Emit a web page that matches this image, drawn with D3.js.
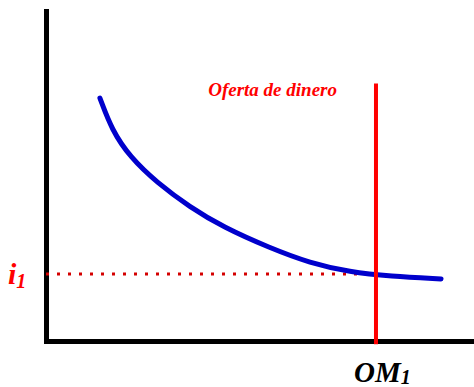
<!DOCTYPE html>
<html>

<head>
	<meta charset='utf-8'>
	<title>Oferta de dinero</title>
	<script type='text/javascript' src='https://cdn.jsdelivr.net/npm/d3@7'></script>
	<style>
		body { margin: 0; background: #fff; }
	</style>
</head>

<body>
	<svg width='474' height='387'></svg>
	<script type='text/javascript'>

		// curva de demanda de dinero (cantidad, tasa de interés)
		const demandaCantidad = [12.6, 15.4, 19.6, 25.9, 33.6, 41.4, 52.3, 61.7, 71.0, 80.4, 92.3]
		const demandaTasa = [73.6, 63.9, 55.8, 48.0, 40.6, 34.5, 28.2, 23.6, 20.9, 19.6, 18.8]

		// oferta de dinero (vertical) y tasa de equilibrio
		const ofertaCantidad = [77.1]
		const ofertaTasa = [-1, 78]
		const tasaEquilibrio = [20.3]

		const ofertaLabel = 'Oferta de dinero'
		const xLabel = ['OM', '1']
		const yLabel = ['i', '1']

		const origin = { x: 46, y: 341 }

		const xScale = d3.scaleLinear().domain([0, 100]).range([origin.x, 474])
		const yScale = d3.scaleLinear().domain([0, 100]).range([origin.y, 11])

		const svg = d3.select('svg')
		const serif = "'Liberation Serif', 'Times New Roman', serif"

		// ejes sin marcas
		const xAxis = d3.axisBottom(xScale).tickValues([]).tickSizeOuter(0)
		const yAxis = d3.axisLeft(yScale).tickValues([]).tickSizeOuter(0)

		svg.append('g').attr('transform', `translate(0, ${origin.y})`).call(xAxis)
		svg.append('g').attr('transform', `translate(${origin.x}, 0)`).call(yAxis)

		svg.selectAll('.domain')
			.attr('stroke', '#000')
			.attr('stroke-width', 5)
			.attr('stroke-linecap', 'square')

		// línea punteada hasta i1
		svg.append('line')
			.attr('x1', xScale(0))
			.attr('x2', xScale(ofertaCantidad[0]))
			.attr('y1', yScale(tasaEquilibrio[0]))
			.attr('y2', yScale(tasaEquilibrio[0]))
			.attr('stroke', '#d40000')
			.attr('stroke-width', 3)
			.attr('stroke-dasharray', '3,8')

		// curva de demanda
		const points = demandaCantidad.map((d, i) => [d, demandaTasa[i]])
		const line = d3.line()
			.x(d => xScale(d[0]))
			.y(d => yScale(d[1]))
			.curve(d3.curveBasis)

		svg.append('path')
			.datum(points)
			.attr('d', line)
			.attr('fill', 'none')
			.attr('stroke', '#0000cc')
			.attr('stroke-width', 5)
			.attr('stroke-linecap', 'round')

		// oferta de dinero
		svg.append('line')
			.attr('x1', xScale(ofertaCantidad[0]))
			.attr('x2', xScale(ofertaCantidad[0]))
			.attr('y1', yScale(ofertaTasa[0]))
			.attr('y2', yScale(ofertaTasa[1]))
			.attr('stroke', '#ff0000')
			.attr('stroke-width', 4)

		svg.append('text')
			.attr('x', xScale(ofertaCantidad[0]) - 39)
			.attr('y', 96)
			.attr('text-anchor', 'end')
			.attr('font-family', serif)
			.attr('font-weight', 'bold')
			.attr('font-style', 'italic')
			.attr('font-size', '19px')
			.attr('fill', '#ff0000')
			.text(ofertaLabel)

		// etiquetas de ejes
		const om = svg.append('text')
			.attr('x', xScale(ofertaCantidad[0]) - 22)
			.attr('y', 382)
			.attr('font-family', serif)
			.attr('font-weight', 'bold')
			.attr('font-style', 'italic')
			.attr('font-size', '29px')
			.attr('fill', '#000')
		om.append('tspan').text(xLabel[0])
		om.append('tspan').attr('font-size', '20px').attr('dy', 2).text(xLabel[1])

		const il = svg.append('text')
			.attr('x', 8)
			.attr('y', yScale(tasaEquilibrio[0]) + 10)
			.attr('font-family', serif)
			.attr('font-weight', 'bold')
			.attr('font-style', 'italic')
			.attr('font-size', '30px')
			.attr('fill', '#ff0000')
		il.append('tspan').text(yLabel[0])
		il.append('tspan').attr('font-size', '20px').attr('dy', 4).text(yLabel[1])

	</script>
</body>

</html>
